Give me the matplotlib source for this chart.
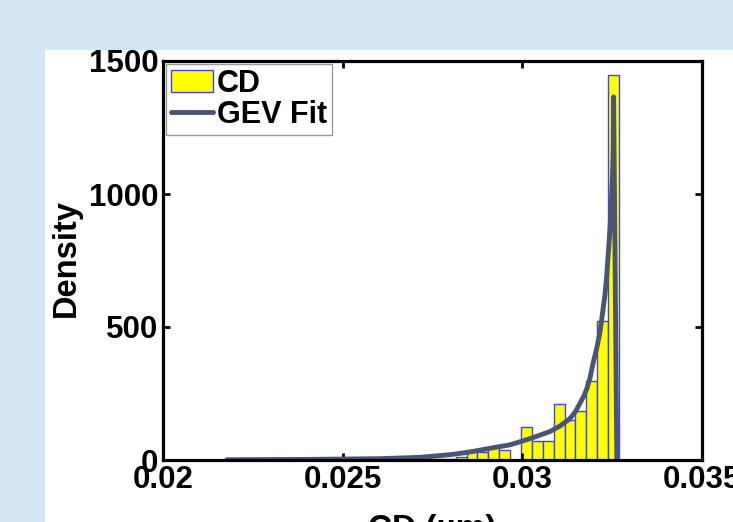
import numpy as np
import matplotlib
matplotlib.use('Agg')
import matplotlib.pyplot as plt
from matplotlib.patches import Rectangle

plt.rcParams['font.family'] = ['Liberation Sans', 'DejaVu Sans']
plt.rcParams['font.weight'] = 'bold'

# histogram of CD (density), 36 bins
bin_first = 0.02178
bin_last = 0.03269
cd_density = [4, 0, 0, 0, 0, 0, 0, 0, 0, 0,
              0, 3, 2, 1, 1, 1, 1, 2, 2, 3,
              5, 12, 36, 30, 48, 37, 1, 123, 73, 73,
              210, 150, 186, 298, 522, 1448]

# GEV fit curve
gev_x = [0.02178, 0.02381, 0.02604, 0.02715, 0.02799, 0.02854, 0.02910,
         0.02966, 0.03021, 0.03077, 0.03105, 0.03132, 0.03147, 0.03160,
         0.03171, 0.03180, 0.03189, 0.03197, 0.03207, 0.03216, 0.03223,
         0.03230, 0.03235, 0.03239, 0.03244, 0.03248, 0.03251, 0.03253,
         0.03254, 0.03263]
gev_y = [1, 2, 5, 10, 20, 30, 44, 57, 80, 107, 128, 155, 180, 212,
         240, 270, 312, 365, 420, 480, 550, 622, 695, 774, 870, 976,
         1070, 1165, 1365, 0]

xticks = [0.02, 0.025, 0.03, 0.035]
xtick_labels = ['0.02', '0.025', '0.03', '0.035']
yticks = [0, 500, 1000, 1500]

fig = plt.figure(figsize=(7.33, 5.22), dpi=100)
fig.patch.set_facecolor('#d4e6f4')
# white panel behind the axes
fig.patches.append(Rectangle((45 / 733, 0), 1, 1 - 50 / 522, transform=fig.transFigure,
                             facecolor='white', edgecolor='none', zorder=-5))

ax = fig.add_axes([163 / 733, 1 - 460 / 522, 539 / 733, 399 / 522])

edges = np.linspace(bin_first, bin_last, len(cd_density) + 1)
bars = ax.bar(edges[:-1], cd_density, width=np.diff(edges), align='edge',
              color='#ffff00', edgecolor='#4040ff', linewidth=1.0, label='CD')
line, = ax.plot(gev_x, gev_y, color='#4a5473', linewidth=3.5, label='GEV Fit',
                solid_capstyle='round', solid_joinstyle='round')

ax.set_xlim(0.02, 0.035)
ax.set_ylim(0, 1500)
ax.set_xticks(xticks)
ax.set_xticklabels(xtick_labels)
ax.set_yticks(yticks)
ax.tick_params(direction='in', length=5, width=2, top=True, right=True,
               labelsize=22.5, pad=3.5)
for s in ax.spines.values():
    s.set_linewidth(2.3)

ax.set_xlabel('CD (µm)', fontsize=24, fontweight='bold')
ax.xaxis.set_label_coords(0.5, -0.136)
ax.set_ylabel('Density', fontsize=23.5, fontweight='bold')
ax.yaxis.set_label_coords(-0.15, 0.505)

leg = ax.legend([bars, line], ['CD', 'GEV Fit'], loc='upper left', fontsize=22,
                frameon=True, fancybox=False, edgecolor='#999999', framealpha=1,
                borderaxespad=0.1, borderpad=0.15, handlelength=1.4,
                handleheight=0.75, handletextpad=0.12, labelspacing=0.05)
leg.get_frame().set_linewidth(1)

fig.savefig('out.png', dpi=100, facecolor=fig.get_facecolor())
